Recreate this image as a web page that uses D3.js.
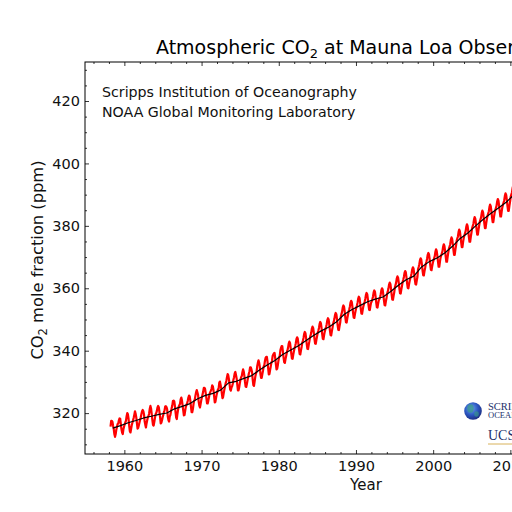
<!DOCTYPE html>
<html>
<head>
<meta charset="utf-8">
<script src="https://cdn.jsdelivr.net/npm/d3@7"></script>
<style>
  html, body { margin: 0; padding: 0; background: #ffffff; }
  svg { display: block; font-family: "DejaVu Sans", sans-serif; }
</style>
</head>
<body>
<svg id="chart" width="512" height="512"></svg>
<script>
// ---- Data ----
// Monthly mean CO2 (ppm), starting March 1958
const monthlyStartYear = 1958;
const monthlyStartMonth = 3;
const co2Monthly = [
  315.7, 317.5, 317.5, 317.2, 315.9, 314.9, 313.2, 312.4, 313.3, 314.7,
  315.6, 316.5, 316.7, 317.7, 318.3, 318.2, 316.5, 314.8, 313.8, 313.3, 314.8, 315.6,
  316.4, 317.0, 317.6, 319.0, 320.0, 319.6, 318.2, 315.9, 314.2, 313.8, 315.0, 316.2,
  316.9, 317.7, 318.5, 319.5, 320.6, 319.8, 318.6, 316.8, 315.0, 315.3, 316.1, 317.0,
  317.9, 318.6, 319.7, 320.6, 321.0, 320.6, 319.6, 317.4, 316.3, 315.4, 316.7, 317.7,
  318.7, 319.1, 319.9, 321.4, 322.3, 321.5, 319.7, 317.8, 316.2, 316.0, 317.1, 318.4,
  319.6, 320.0, 320.7, 321.8, 322.3, 321.9, 320.4, 318.7, 316.7, 316.9, 317.7, 318.7,
  319.4, 320.4, 320.9, 322.1, 322.2, 321.9, 321.2, 318.9, 317.8, 317.3, 318.9, 319.4,
  320.6, 321.6, 322.4, 323.9, 324.0, 323.8, 322.4, 320.4, 318.6, 318.1, 319.8, 321.1,
  322.1, 322.5, 323.0, 324.4, 325.0, 324.1, 322.5, 320.9, 319.3, 319.4, 320.7, 322.0,
  322.6, 323.2, 323.9, 325.0, 325.6, 325.4, 324.1, 322.1, 320.3, 320.3, 321.3, 322.9,
  324.0, 324.4, 325.6, 326.7, 327.4, 326.7, 325.9, 323.7, 322.4, 321.8, 322.9, 324.1,
  325.1, 326.0, 326.9, 328.1, 328.1, 327.7, 326.3, 324.7, 323.1, 323.1, 324.0, 325.1,
  326.2, 326.7, 327.2, 327.8, 328.9, 328.6, 327.4, 325.4, 323.4, 323.6, 324.8, 326.0,
  326.8, 327.6, 327.8, 329.7, 330.1, 329.1, 328.0, 326.3, 324.8, 325.2, 326.5, 327.6,
  328.6, 329.6, 330.3, 331.5, 332.5, 332.1, 330.9, 329.3, 327.5, 327.2, 328.2, 328.6,
  329.4, 330.7, 331.5, 332.7, 333.2, 332.2, 331.1, 329.2, 327.3, 327.3, 328.3, 329.6,
  330.7, 331.5, 331.9, 333.1, 334.0, 333.4, 332.0, 330.0, 328.5, 328.4, 329.4, 330.6,
  331.6, 332.7, 333.4, 334.7, 334.7, 334.0, 333.1, 330.7, 329.0, 328.7, 330.2, 331.6,
  332.7, 333.2, 335.0, 336.1, 336.9, 336.2, 334.9, 332.6, 331.3, 331.3, 332.5, 333.6,
  334.9, 335.3, 336.7, 337.7, 338.0, 338.0, 336.5, 334.4, 332.4, 332.5, 333.8, 334.9,
  336.1, 336.7, 338.3, 338.8, 339.2, 339.3, 337.5, 335.7, 334.0, 334.2, 335.3, 336.8,
  337.9, 338.3, 340.1, 340.9, 341.5, 341.4, 339.5, 337.7, 336.3, 336.1, 337.3, 338.3,
  339.4, 340.1, 341.0, 342.3, 342.9, 342.5, 340.9, 339.0, 337.5, 337.4, 338.7, 339.8,
  340.8, 341.5, 342.4, 343.7, 344.3, 343.9, 342.3, 340.4, 338.9, 338.8, 340.1, 341.2,
  342.5, 343.2, 344.1, 345.4, 346.0, 345.6, 344.0, 342.1, 340.6, 340.5, 341.8, 342.9,
  344.2, 344.9, 345.8, 347.1, 347.7, 347.3, 345.7, 343.8, 342.3, 342.2, 343.5, 344.6,
  345.7, 346.4, 347.3, 348.6, 349.2, 348.8, 347.2, 345.3, 343.8, 343.7, 345.0, 346.1,
  346.9, 347.6, 348.5, 349.8, 350.4, 350.0, 348.4, 346.5, 345.0, 344.9, 346.2, 347.3,
  348.6, 349.3, 350.2, 351.5, 352.1, 351.7, 350.1, 348.2, 346.7, 346.6, 347.9, 349.0,
  351.0, 351.7, 352.6, 353.9, 354.5, 354.1, 352.5, 350.6, 349.1, 349.0, 350.3, 351.4,
  352.5, 353.2, 354.1, 355.4, 356.0, 355.6, 354.0, 352.1, 350.6, 350.5, 351.8, 352.9,
  353.8, 354.5, 355.4, 356.7, 357.3, 356.9, 355.3, 353.4, 351.9, 351.8, 353.1, 354.2,
  355.0, 355.7, 356.6, 357.9, 358.5, 358.1, 356.5, 354.6, 353.1, 353.0, 354.3, 355.4,
  355.8, 356.5, 357.4, 358.7, 359.3, 358.9, 357.3, 355.4, 353.9, 353.8, 355.1, 356.2,
  356.5, 357.2, 358.1, 359.4, 360.0, 359.6, 358.0, 356.1, 354.6, 354.5, 355.8, 356.9,
  358.3, 359.0, 359.9, 361.2, 361.8, 361.4, 359.8, 357.9, 356.4, 356.3, 357.6, 358.7,
  360.3, 361.0, 361.9, 363.2, 363.8, 363.4, 361.8, 359.9, 358.4, 358.3, 359.6, 360.7,
  362.0, 362.7, 363.6, 364.9, 365.5, 365.1, 363.5, 361.6, 360.1, 360.0, 361.3, 362.4,
  363.2, 363.9, 364.8, 366.1, 366.7, 366.3, 364.7, 362.8, 361.3, 361.2, 362.5, 363.6,
  366.1, 366.8, 367.7, 369.0, 369.6, 369.2, 367.6, 365.7, 364.2, 364.1, 365.4, 366.5,
  367.8, 368.5, 369.4, 370.7, 371.3, 370.9, 369.3, 367.4, 365.9, 365.8, 367.1, 368.2,
  368.9, 369.6, 370.3, 371.7, 372.5, 372.0, 370.4, 368.5, 366.9, 366.9, 368.5, 369.8,
  370.5, 371.2, 371.9, 373.3, 374.1, 373.6, 372.0, 370.1, 368.5, 368.5, 370.1, 371.4,
  372.7, 373.4, 374.1, 375.5, 376.3, 375.8, 374.2, 372.3, 370.7, 370.7, 372.3, 373.6,
  375.2, 375.9, 376.6, 378.0, 378.8, 378.3, 376.7, 374.8, 373.2, 373.2, 374.8, 376.1,
  376.9, 377.6, 378.3, 379.7, 380.5, 380.0, 378.4, 376.5, 374.9, 374.9, 376.5, 377.8,
  379.2, 379.9, 380.6, 382.0, 382.8, 382.3, 380.7, 378.8, 377.2, 377.2, 378.8, 380.1,
  381.3, 382.0, 382.7, 384.1, 384.9, 384.4, 382.8, 380.9, 379.3, 379.3, 380.9, 382.2,
  383.2, 383.9, 384.6, 386.0, 386.8, 386.3, 384.7, 382.8, 381.2, 381.2, 382.8, 384.1,
  385.0, 385.7, 386.4, 387.8, 388.6, 388.1, 386.5, 384.6, 383.0, 383.0, 384.6, 385.9,
  386.8, 387.5, 388.2, 389.6, 390.4, 389.9, 388.3, 386.4, 384.8, 384.8, 386.4, 387.7,
  389.3, 390.0, 390.7, 392.1, 392.9, 392.4, 390.8, 388.9, 387.3, 387.3, 388.9, 390.2,
  391.1, 391.8, 392.5, 393.9, 394.7, 394.2, 392.6, 390.7, 389.1, 389.1, 390.7, 392.0,
  393.3, 394.0, 394.7, 396.1, 396.9, 396.4, 394.8, 392.9, 391.3, 391.3, 392.9, 394.2
];

// Seasonally adjusted trend (annual means, ppm), plotted at mid-year
const trendYears = [
  1958, 1959, 1960, 1961, 1962, 1963, 1964, 1965, 1966, 1967, 1968, 1969,
  1970, 1971, 1972, 1973, 1974, 1975, 1976, 1977, 1978, 1979,
  1980, 1981, 1982, 1983, 1984, 1985, 1986, 1987, 1988, 1989,
  1990, 1991, 1992, 1993, 1994, 1995, 1996, 1997, 1998, 1999,
  2000, 2001, 2002, 2003, 2004, 2005, 2006, 2007, 2008, 2009,
  2010, 2011, 2012
];
const trendValues = [
  315.2, 315.98, 316.91, 317.64, 318.45, 318.99, 319.62, 320.04, 321.37, 322.18, 323.05, 324.62,
  325.68, 326.32, 327.46, 329.68, 330.19, 331.13, 332.03, 333.84, 335.41, 336.84,
  338.76, 340.12, 341.48, 343.15, 344.87, 346.35, 347.61, 349.31, 351.69, 353.20,
  354.45, 355.70, 356.54, 357.21, 358.96, 360.97, 362.74, 363.88, 366.84, 368.54,
  369.71, 371.32, 373.45, 375.98, 377.70, 379.98, 382.09, 384.02, 385.83, 387.64,
  390.10, 391.85, 394.06
];

const xTickValues = [1960, 1970, 1980, 1990, 2000, 2010, 2020];
const yTickValues = [320, 340, 360, 380, 400, 420];

const titleText = ["Atmospheric CO", "2", " at Mauna Loa Observatory"];
const yLabelText = ["CO", "2", " mole fraction (ppm)"];
const xLabelText = "Year";
const noteLines = ["Scripps Institution of Oceanography", "NOAA Global Monitoring Laboratory"];

// ---- Layout ----
const svg = d3.select("#chart");
const plot = { left: 85, right: 647, top: 62, bottom: 454 };

const x = d3.scaleLinear().domain([1954.9, 2027.7]).range([plot.left, plot.right]);
const y = d3.scaleLinear().domain([306.9, 432.5]).range([plot.bottom, plot.top]);

const monthlyData = co2Monthly.map((v, i) => ({
  t: monthlyStartYear + (monthlyStartMonth - 1 + i + 0.5) / 12,
  v
}));
const trendData = trendYears.map((yr, i) => ({ t: yr + 0.5, v: trendValues[i] }));

svg.append("rect").attr("width", 512).attr("height", 512).attr("fill", "#fff");

svg.append("clipPath").attr("id", "clip")
  .append("rect")
  .attr("x", plot.left).attr("y", plot.top)
  .attr("width", plot.right - plot.left).attr("height", plot.bottom - plot.top);

const line = d3.line().x(d => x(d.t)).y(d => y(d.v));

const g = svg.append("g").attr("clip-path", "url(#clip)");
g.append("path").datum(monthlyData)
  .attr("d", line).attr("fill", "none")
  .attr("stroke", "#ff0000").attr("stroke-width", 2.2)
  .attr("stroke-linejoin", "round");
g.append("path").datum(trendData)
  .attr("d", line).attr("fill", "none")
  .attr("stroke", "#000").attr("stroke-width", 1.2)
  .attr("stroke-linejoin", "round");

// ---- Axes (ticks pointing inward on all sides) ----
const xMinor = d3.range(1956, 2028, 2).filter(v => v % 10 !== 0);
const yMinor = d3.range(310, 435, 5).filter(v => v % 20 !== 0);

function styleAxis(sel) {
  sel.select(".domain").remove();
  sel.selectAll("line").attr("stroke", "#000").attr("stroke-width", 0.8);
  sel.selectAll("text").attr("fill", "#111").style("font-size", "14.5px")
    .style("font-family", "DejaVu Sans, sans-serif");
}

const axB = svg.append("g").attr("transform", `translate(0,${plot.bottom})`)
  .call(d3.axisBottom(x).tickValues(xTickValues).tickFormat(d3.format("d")).tickSize(-4).tickPadding(7));
styleAxis(axB);
const axBm = svg.append("g").attr("transform", `translate(0,${plot.bottom})`)
  .call(d3.axisBottom(x).tickValues(xMinor).tickFormat("").tickSize(-2));
styleAxis(axBm);
const axT = svg.append("g").attr("transform", `translate(0,${plot.top})`)
  .call(d3.axisTop(x).tickValues(xTickValues).tickFormat("").tickSize(-4));
styleAxis(axT);
const axTm = svg.append("g").attr("transform", `translate(0,${plot.top})`)
  .call(d3.axisTop(x).tickValues(xMinor).tickFormat("").tickSize(-2));
styleAxis(axTm);

const axL = svg.append("g").attr("transform", `translate(${plot.left},0)`)
  .call(d3.axisLeft(y).tickValues(yTickValues).tickFormat(d3.format("d")).tickSize(-4).tickPadding(5));
styleAxis(axL);
const axLm = svg.append("g").attr("transform", `translate(${plot.left},0)`)
  .call(d3.axisLeft(y).tickValues(yMinor).tickFormat("").tickSize(-2));
styleAxis(axLm);
const axR = svg.append("g").attr("transform", `translate(${plot.right},0)`)
  .call(d3.axisRight(y).tickValues(yTickValues).tickFormat("").tickSize(-4));
styleAxis(axR);

svg.append("rect")
  .attr("x", plot.left).attr("y", plot.top)
  .attr("width", plot.right - plot.left).attr("height", plot.bottom - plot.top)
  .attr("fill", "none").attr("stroke", "#000").attr("stroke-width", 1);

// ---- Title ----
const cx = (plot.left + plot.right) / 2;
const title = svg.append("text")
  .attr("x", cx).attr("y", 54).attr("text-anchor", "middle")
  .style("font-size", "19px").attr("fill", "#000");
title.append("tspan").text(titleText[0]);
title.append("tspan").attr("dy", 4).style("font-size", "13px").text(titleText[1]);
title.append("tspan").attr("dy", -4).text(titleText[2]);

// ---- Axis labels ----
svg.append("text")
  .attr("x", cx).attr("y", 490).attr("text-anchor", "middle")
  .style("font-size", "15px").attr("fill", "#111").text(xLabelText);

const yl = svg.append("text")
  .attr("transform", `translate(43,${(plot.top + plot.bottom) / 2 + 2}) rotate(-90)`)
  .attr("text-anchor", "middle")
  .style("font-size", "16.3px").attr("fill", "#111");
yl.append("tspan").text(yLabelText[0]);
yl.append("tspan").attr("dy", 4).style("font-size", "11.5px").text(yLabelText[1]);
yl.append("tspan").attr("dy", -4).text(yLabelText[2]);

// ---- Notes ----
svg.selectAll("text.note").data(noteLines).enter().append("text")
  .attr("class", "note")
  .attr("x", 102).attr("y", (d, i) => 97 + i * 20)
  .style("font-size", "14.2px").attr("fill", "#111").text(d => d);

// ---- Scripps / UCSD logo ----
const defs = svg.append("defs");
const grad = defs.append("radialGradient").attr("id", "globe")
  .attr("cx", "40%").attr("cy", "35%").attr("r", "70%");
grad.append("stop").attr("offset", "0%").attr("stop-color", "#6fa6ee");
grad.append("stop").attr("offset", "55%").attr("stop-color", "#2a55c0");
grad.append("stop").attr("offset", "100%").attr("stop-color", "#1c2a7a");

const logo = svg.append("g");
logo.append("circle").attr("cx", 473).attr("cy", 411).attr("r", 8.8).attr("fill", "url(#globe)");
logo.append("ellipse").attr("cx", 470.5).attr("cy", 408.5).attr("rx", 3.2).attr("ry", 4.2)
  .attr("fill", "#3a9a8a").attr("opacity", 0.75);
logo.append("ellipse").attr("cx", 476.5).attr("cy", 414).attr("rx", 2.3).attr("ry", 2.8)
  .attr("fill", "#3a9a8a").attr("opacity", 0.65);
logo.append("text").attr("x", 488).attr("y", 409.5)
  .style("font-family", "Liberation Serif, DejaVu Serif, serif").style("font-size", "10.5px")
  .attr("fill", "#22306a").text("SCRIPPS");
logo.append("text").attr("x", 488).attr("y", 418)
  .style("font-family", "Liberation Serif, DejaVu Serif, serif").style("font-size", "8.5px")
  .attr("fill", "#22306a").text("OCEANOGRAPHY");
logo.append("text").attr("x", 488).attr("y", 440)
  .style("font-family", "Liberation Serif, DejaVu Serif, serif").style("font-size", "14px")
  .attr("fill", "#22306a").text("UCSD");
logo.append("line").attr("x1", 488).attr("x2", 545).attr("y1", 444).attr("y2", 444)
  .attr("stroke", "#d8b25a").attr("stroke-width", 1);
</script>
</body>
</html>
